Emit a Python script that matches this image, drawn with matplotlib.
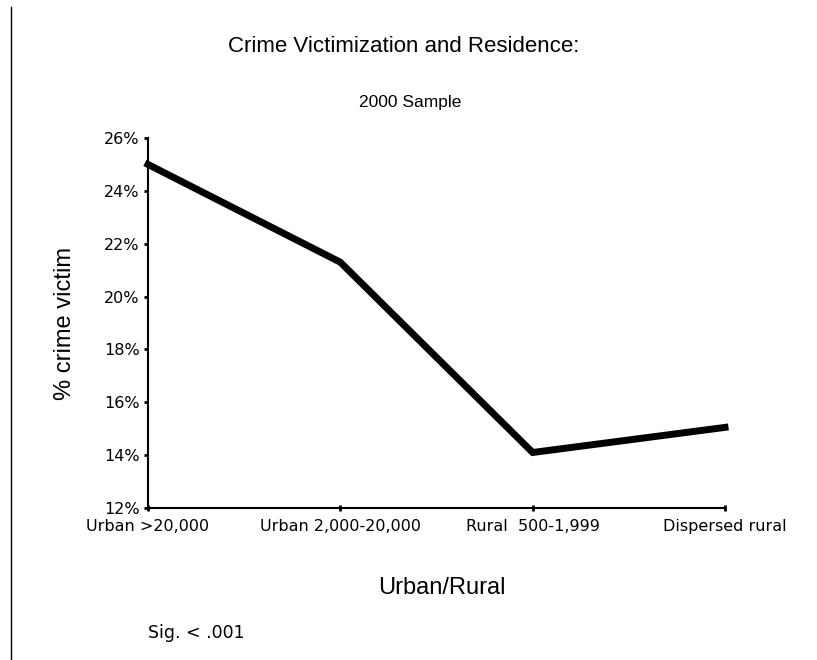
import matplotlib.pyplot as plt
from matplotlib.lines import Line2D

plt.rcParams['font.family'] = ['Liberation Sans', 'DejaVu Sans']

# Data
categories = ["Urban >20,000", "Urban 2,000-20,000", "Rural  500-1,999", "Dispersed rural"]
pct_victim = [25.0, 21.3, 14.1, 15.05]
y_ticks = [12, 14, 16, 18, 20, 22, 24, 26]

fig = plt.figure(figsize=(8.17, 6.6), dpi=100)
ax = fig.add_axes([148 / 817, 1 - 508 / 660, (725 - 148) / 817, (508 - 138) / 660])

x = list(range(len(categories)))
ax.plot(x, pct_victim, color='black', linewidth=5, solid_joinstyle='miter', clip_on=False)

ax.set_xlim(0, len(categories) - 1)
ax.set_ylim(12, 26)
ax.set_yticks(y_ticks)
ax.set_yticklabels([f"{v}%" for v in y_ticks], fontdict={'family': ['DejaVu Sans'], 'size': 11.5})
ax.set_xticks(x)
ax.set_xticklabels(categories, fontdict={'family': ['DejaVu Sans'], 'size': 11.5})
ax.tick_params(axis='y', direction='out', length=3, width=2, pad=3)
ax.tick_params(axis='x', direction='inout', length=4, width=2, pad=6)

for side in ['top', 'right']:
    ax.spines[side].set_visible(False)
for side in ['left', 'bottom']:
    ax.spines[side].set_linewidth(1.5)

ax.set_ylabel("% crime victim", fontsize=17, labelpad=20)

fig.text(404 / 817, 1 - 47 / 660, "Crime Victimization and Residence:", fontsize=16,
         ha='center', va='center')
fig.text(410 / 817, 1 - 103 / 660, "2000 Sample", fontsize=12.5, ha='center', va='center')
fig.text(442 / 817, 1 - 588 / 660, "Urban/Rural", fontsize=17, ha='center', va='center')
fig.text(148 / 817, 1 - 633 / 660, "Sig. < .001", fontdict={'family': ['DejaVu Sans'], 'size': 12.5},
         ha='left', va='center')

# left frame line
fig.add_artist(Line2D([11 / 817, 11 / 817], [0, 1 - 7 / 660], transform=fig.transFigure,
                      color='black', linewidth=1))

fig.savefig('out.png', dpi=100)
